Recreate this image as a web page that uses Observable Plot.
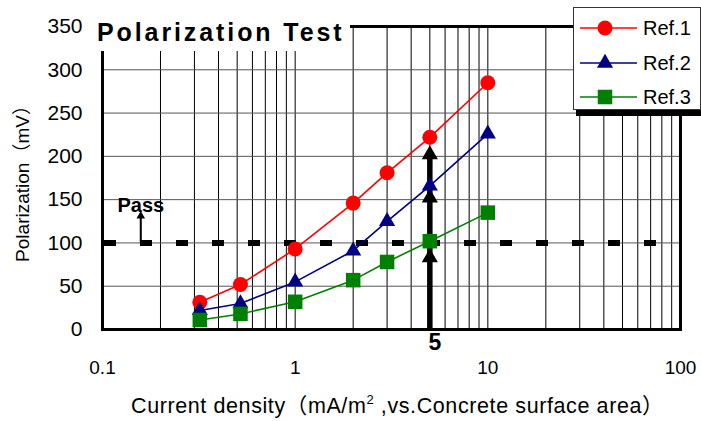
<!DOCTYPE html>
<html><head><meta charset="utf-8">
<script src="https://cdn.jsdelivr.net/npm/d3@7"></script>
<script src="https://cdn.jsdelivr.net/npm/@observablehq/plot@0.6"></script>
<style>
body{margin:0;background:#fff;}
#chart{position:relative;width:701px;height:421px;}
</style></head><body><div id="chart"></div>
<script>
// ---- data ----
const xValues = [0.32, 0.52, 1, 2, 3, 5, 10];
const ref1 = [31.5, 52, 93, 146, 181, 222, 285];
const ref2 = [22, 30, 55, 91, 125, 166, 226];
const ref3 = [11, 18, 32, 57, 78, 102, 135];
const seriesNames = ["Ref.1", "Ref.2", "Ref.3"];
const seriesColors = ["#ff0000", "#000080", "#008000"];
const seriesSymbols = ["circle", "triangle", "square"];
const yTicks = [0, 50, 100, 150, 200, 250, 300, 350];
const xTickLabels = [0.1, 1, 10, 100];
const passLevel = 100;
const targetDensity = 5;
const targetArrowHeads = [83, 152, 202];
const targetArrowTop = 205;
const passArrowX = 0.158;
const passArrowTop = 131;
const titleText = "Polarization Test";
const passText = "Pass";
const yTitle = "Polarization（mV）";

const seriesValues = [ref1, ref2, ref3];
const rows = [];
seriesNames.forEach((s, i) => xValues.forEach((x, j) => rows.push({series: s, x, y: seriesValues[i][j]})));
const gridX = d3.scaleLog().domain([0.1, 100]).ticks();
const markerR = {circle: 7.5, triangle: 6, square: 8.2};

const FONT = "'Liberation Sans', Arial, 'Noto Sans CJK JP', sans-serif";

const plot = Plot.plot({
  width: 701, height: 421,
  marginLeft: 102, marginRight: 21, marginTop: 26, marginBottom: 92,
  style: {fontFamily: FONT, color: "#000", background: "#fff"},
  x: {type: "log", domain: [0.1, 100]},
  y: {domain: [0, 350]},
  color: {domain: seriesNames, range: seriesColors},
  marks: [
    Plot.ruleX(gridX, {stroke: "#000", strokeWidth: 1}),
    Plot.ruleY(yTicks.slice(1, -1), {stroke: "#555", strokeWidth: 1}),
    Plot.ruleY([passLevel], {stroke: "#000", strokeWidth: 6, strokeDasharray: "12,24", strokeDashoffset: -2}),
    Plot.frame({stroke: "#000", strokeWidth: 3}),
    Plot.line(rows, {x: "x", y: "y", z: "series", stroke: "series", strokeWidth: 1.6}),
    // target arrows at 5 mA/m2
    Plot.ruleX([targetDensity], {y1: 0, y2: targetArrowTop, stroke: "#000", strokeWidth: 5.5}),
    Plot.dot(targetArrowHeads, {x: () => targetDensity, y: d => d, symbol: "triangle", r: 6, fill: "#000", stroke: "none"}),
    // pass arrow
    Plot.ruleX([passArrowX], {y1: passLevel, y2: passArrowTop, stroke: "#000", strokeWidth: 2}),
    Plot.dot([passArrowTop], {x: () => passArrowX, y: d => d, symbol: "triangle", r: 3.2, fill: "#000", stroke: "none"}),
    Plot.text([passText], {x: () => passArrowX, y: () => 143, text: d => d, fontSize: 20, fontWeight: "bold", style: "letter-spacing:2.5px"}),
    ...seriesNames.map((s, i) => Plot.dot(rows.filter(d => d.series === s), {
      x: "x", y: "y", symbol: seriesSymbols[i], r: markerR[seriesSymbols[i]], fill: seriesColors[i], stroke: "none"
    })),
    Plot.axisY(yTicks, {tickSize: 0, tickPadding: 20, fontSize: 21, label: null}),
    Plot.axisX(xTickLabels, {tickSize: 0, tickPadding: 31, fontSize: 19, tickFormat: d => String(d), label: null}),
    Plot.text([targetDensity], {x: d => d, frameAnchor: "bottom", lineAnchor: "middle", dy: 13, dx: 5, text: d => String(d), fontSize: 23, fontWeight: "bold"})
  ]
});
document.getElementById("chart").appendChild(plot);

// ---- overlay: title box, legend, axis titles ----
const svg = d3.select(plot);
svg.append("rect").attr("x", 95).attr("y", 0).attr("width", 255).attr("height", 51).attr("fill", "#fff");
svg.append("text").attr("x", 97).attr("y", 41).attr("text-anchor", "start").text(titleText)
  .attr("font-family", FONT).attr("font-size", 25).attr("font-weight", "bold").attr("letter-spacing", 2.9).attr("fill", "#000");

const lg = svg.append("g");
lg.append("rect").attr("x", 576).attr("y", 12).attr("width", 130).attr("height", 104).attr("fill", "#000");
lg.append("rect").attr("x", 573.5).attr("y", 7.5).attr("width", 127).attr("height", 102).attr("fill", "#fff").attr("stroke", "#333").attr("stroke-width", 1);
const rowY = [28, 63, 97];
const symMap = {circle: d3.symbolCircle, triangle: d3.symbolTriangle, square: d3.symbolSquare};
seriesNames.forEach((s, i) => {
  const g = lg.append("g");
  g.append("line").attr("x1", 580).attr("x2", 637).attr("y1", rowY[i]).attr("y2", rowY[i]).attr("stroke", seriesColors[i]).attr("stroke-width", 1.6);
  const r = markerR[seriesSymbols[i]];
  g.append("path").attr("transform", `translate(605,${rowY[i]})`).attr("d", d3.symbol(symMap[seriesSymbols[i]], Math.PI * r * r)()).attr("fill", seriesColors[i]);
  g.append("text").attr("x", 643).attr("y", rowY[i]).attr("dy", "0.36em").attr("text-anchor", "start").text(s)
    .attr("font-family", FONT).attr("font-size", 20).attr("fill", "#000");
});

svg.append("text").attr("transform", "translate(22,179) rotate(-90)").attr("text-anchor", "middle").attr("dy", "0.36em")
  .attr("font-family", FONT).attr("font-size", 19).attr("fill", "#000").text(yTitle);

const xt = svg.append("text").attr("x", 131).attr("y", 413).attr("text-anchor", "start").attr("font-family", FONT)
  .attr("font-size", 21.5).attr("letter-spacing", 0.6).attr("fill", "#000");
xt.append("tspan").text("Current density（mA/m");
xt.append("tspan").attr("font-size", 13).attr("dy", -9).text("2");
xt.append("tspan").attr("dy", 9).text(" ,vs.Concrete surface area）");
</script></body></html>
